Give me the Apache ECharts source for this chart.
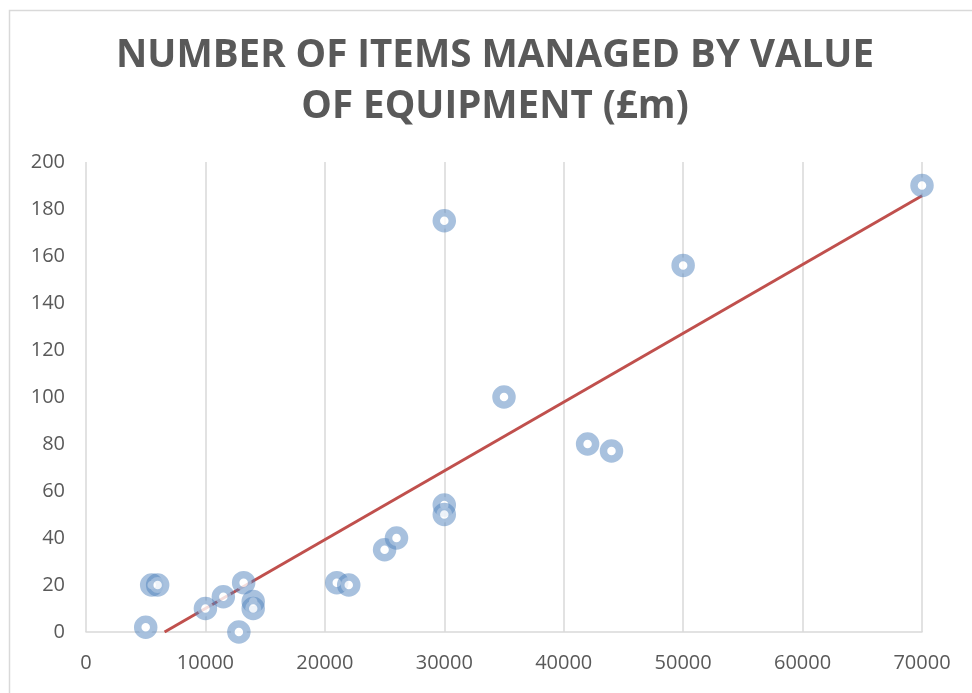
<!DOCTYPE html>
<html>
<head>
<meta charset="utf-8">
<script src="https://cdn.jsdelivr.net/npm/echarts@6/dist/echarts.min.js"></script>
<style>
  html, body { margin: 0; padding: 0; background: #ffffff; }
  #chart { width: 972px; height: 693px; }
</style>
</head>
<body>
<div id="chart"></div>
<script>
// Value of equipment (x) and number of items managed (y)
const equipmentValue = [5000, 5500, 6000, 10000, 11500, 13200, 12800, 14000, 14000, 21000, 22000,
                        25000, 26000, 30000, 30000, 30000, 35000, 42000, 44000, 50000, 70000];
const itemsManaged   = [2, 20, 20, 10, 15, 21, 0, 13, 10, 21, 20,
                        35, 40, 54, 50, 175, 100, 80, 77, 156, 190];
const xTicks = [0, 10000, 20000, 30000, 40000, 50000, 60000, 70000];
const yTicks = [0, 20, 40, 60, 80, 100, 120, 140, 160, 180, 200];
const titleText = 'NUMBER OF ITEMS MANAGED BY VALUE\nOF EQUIPMENT (£m)';

const points = equipmentValue.map((x, i) => [x, itemsManaged[i]]);

// Linear trendline (least squares) from the data
const n = points.length;
const mx = equipmentValue.reduce((a, b) => a + b, 0) / n;
const my = itemsManaged.reduce((a, b) => a + b, 0) / n;
let sxy = 0, sxx = 0;
for (let i = 0; i < n; i++) {
  sxy += (equipmentValue[i] - mx) * (itemsManaged[i] - my);
  sxx += (equipmentValue[i] - mx) * (equipmentValue[i] - mx);
}
const slope = sxy / sxx;
const intercept = my - slope * mx;
const xMinData = Math.min(...equipmentValue);
const xMaxData = Math.max(...equipmentValue);
const xStart = Math.max(xMinData, -intercept / slope);
const trend = [[xStart, intercept + slope * xStart], [xMaxData, intercept + slope * xMaxData]];

const chart = echarts.init(document.getElementById('chart'), null, { renderer: 'canvas' });
const FONT = '"Open Sans", "Noto Sans", sans-serif';

chart.setOption({
  backgroundColor: '#ffffff',
  animation: false,
  title: {
    text: titleText,
    left: 490,
    top: 26,
    textAlign: 'center',
    textStyle: {
      fontFamily: FONT,
      fontSize: 38.5,
      fontWeight: 'bold',
      color: '#595959',
      lineHeight: 51
    }
  },
  graphic: [{
    type: 'rect',
    left: 7, top: 8,
    shape: { width: 1000, height: 1000 },
    style: { fill: 'none', stroke: '#d9d9d9', lineWidth: 1.5 },
    silent: true
  }],
  grid: { left: 86, right: 50, top: 162, bottom: 61, containLabel: false },
  xAxis: {
    type: 'value',
    min: xTicks[0],
    max: xTicks[xTicks.length - 1],
    interval: xTicks[1] - xTicks[0],
    axisLine: { show: true, lineStyle: { color: '#d9d9d9', width: 1.5 } },
    axisTick: { show: false },
    axisLabel: {
      color: '#595959', fontSize: 20, fontFamily: FONT, margin: 21,
      formatter: (v) => String(v)
    },
    splitLine: { show: true, lineStyle: { color: '#d9d9d9', width: 1.5 } }
  },
  yAxis: {
    type: 'value',
    min: yTicks[0],
    max: yTicks[yTicks.length - 1],
    interval: yTicks[1] - yTicks[0],
    axisLine: { show: false },
    axisTick: { show: false },
    axisLabel: { color: '#595959', fontSize: 20, fontFamily: FONT, margin: 21 },
    splitLine: { show: false }
  },
  series: [
    {
      type: 'line',
      data: trend,
      showSymbol: false,
      symbol: 'none',
      lineStyle: { color: '#c0504d', width: 3 },
      z: 2,
      silent: true
    },
    {
      type: 'scatter',
      data: points,
      symbol: 'circle',
      symbolSize: 16,
      itemStyle: {
        color: '#ffffff',
        borderColor: 'rgba(79,129,189,0.62)',
        borderWidth: 7.5
      },
      z: 3
    }
  ]
});
</script>
</body>
</html>
